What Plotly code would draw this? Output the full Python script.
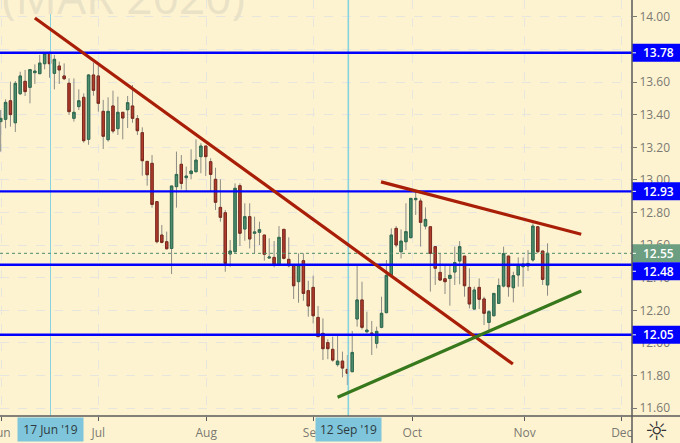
import plotly.graph_objects as go

# daily candles, x is the bar number
bars = list(range(113))
opens = [13.358, 13.372, 13.486, 13.351, 13.529, 13.605, 13.568, 13.658, 13.652, 13.713,
         13.781, 13.654, 13.699, 13.638, 13.593, 13.378, 13.450, 13.507, 13.249, 13.644,
         13.638, 13.421, 13.247, 13.454, 13.315, 13.415, 13.431, 13.454, 13.376, 13.290,
         13.114, 13.102, 12.867, 12.662, 12.621, 12.580, 12.959, 13.096, 13.014, 13.039,
         13.051, 13.143, 13.208, 13.112, 13.004, 12.832, 12.799, 12.546, 12.560, 12.965,
         12.699, 12.775, 12.673, 12.679, 12.662, 12.521, 12.525, 12.476, 12.697, 12.513,
         12.478, 12.376, 12.505, 12.321, 12.341, 12.157, 12.059, 12.002, 11.961, 11.867,
         11.889, 11.838, 11.824, 12.147, 12.264, 12.069, 12.061, 11.998, 12.096, 12.186,
         12.417, 12.703, 12.560, 12.621, 12.646, 12.879, 12.871, 12.717, 12.713, 12.591,
         12.433, 12.394, 12.396, 12.435, 12.503, 12.533, 12.341, 12.208, 12.341, 12.270,
         12.126, 12.167, 12.243, 12.349, 12.533, 12.339, 12.417, 12.468, 12.472, 12.509,
         12.713, 12.564, 12.356]
highs = [13.429, 13.495, 13.603, 13.607, 13.664, 13.675, 13.679, 13.709, 13.767, 13.777,
         13.787, 13.767, 13.726, 13.715, 13.623, 13.623, 13.556, 13.531, 13.650, 13.720,
         13.699, 13.491, 13.507, 13.548, 13.511, 13.415, 13.515, 13.583, 13.398, 13.323,
         13.114, 13.153, 12.867, 12.724, 12.683, 12.963, 13.174, 13.153, 13.082, 13.188,
         13.249, 13.225, 13.208, 13.133, 13.075, 13.004, 12.816, 12.632, 12.979, 12.979,
         12.857, 12.857, 12.775, 12.744, 12.662, 12.642, 12.625, 12.717, 12.697, 12.648,
         12.478, 12.550, 12.550, 12.382, 12.413, 12.227, 12.151, 12.022, 12.039, 12.055,
         11.947, 11.926, 12.073, 12.478, 12.376, 12.192, 12.135, 12.100, 12.284, 12.509,
         12.703, 12.717, 12.697, 12.857, 12.887, 12.928, 12.887, 12.832, 12.713, 12.591,
         12.550, 12.478, 12.478, 12.591, 12.625, 12.533, 12.458, 12.345, 12.396, 12.284,
         12.202, 12.304, 12.396, 12.591, 12.533, 12.437, 12.525, 12.525, 12.570, 12.734,
         12.713, 12.564, 12.611]
lows = [13.174, 13.317, 13.327, 13.294, 13.521, 13.515, 13.470, 13.589, 13.650, 13.679,
        13.627, 13.556, 13.589, 13.613, 13.398, 13.358, 13.429, 13.229, 13.216, 13.517,
        13.419, 13.190, 13.235, 13.286, 13.276, 13.249, 13.319, 13.351, 13.276, 13.026,
        12.965, 12.830, 12.611, 12.611, 12.574, 12.423, 12.830, 12.942, 12.928, 13.004,
        13.045, 13.041, 13.024, 12.928, 12.816, 12.744, 12.437, 12.468, 12.554, 12.595,
        12.627, 12.580, 12.550, 12.601, 12.505, 12.519, 12.464, 12.472, 12.513, 12.464,
        12.270, 12.247, 12.259, 12.161, 12.120, 12.039, 11.895, 11.901, 11.885, 11.855,
        11.789, 11.742, 11.820, 12.100, 12.083, 12.059, 11.926, 11.967, 12.090, 12.182,
        12.407, 12.587, 12.519, 12.570, 12.642, 12.785, 12.591, 12.697, 12.315, 12.356,
        12.382, 12.300, 12.229, 12.356, 12.360, 12.284, 12.212, 12.202, 12.208, 12.110,
        12.079, 12.165, 12.239, 12.341, 12.284, 12.249, 12.345, 12.345, 12.441, 12.499,
        12.550, 12.356, 12.290]
closes = [13.378, 13.476, 13.401, 13.593, 13.638, 13.542, 13.677, 13.668, 13.717, 13.777,
          13.713, 13.740, 13.675, 13.621, 13.419, 13.415, 13.486, 13.241, 13.644, 13.550,
          13.470, 13.268, 13.421, 13.300, 13.415, 13.380, 13.474, 13.378, 13.302, 13.118,
          13.032, 12.850, 12.621, 12.617, 12.578, 12.963, 13.034, 12.979, 13.024, 13.055,
          13.122, 13.208, 13.143, 13.034, 12.863, 12.771, 12.488, 12.564, 12.949, 12.673,
          12.775, 12.638, 12.681, 12.695, 12.544, 12.527, 12.478, 12.648, 12.519, 12.474,
          12.351, 12.478, 12.304, 12.227, 12.167, 12.039, 11.965, 11.965, 11.895, 11.889,
          11.846, 11.814, 11.942, 12.264, 12.096, 12.079, 12.049, 12.071, 12.182, 12.415,
          12.662, 12.601, 12.625, 12.683, 12.887, 12.887, 12.740, 12.758, 12.550, 12.458,
          12.386, 12.376, 12.415, 12.493, 12.591, 12.351, 12.239, 12.325, 12.268, 12.182,
          12.192, 12.304, 12.353, 12.548, 12.345, 12.413, 12.478, 12.484, 12.488, 12.717,
          12.560, 12.390, 12.550]

# axes
y_ticks = [11.6, 11.8, 12.0, 12.2, 12.4, 12.6, 12.8, 13.0, 13.2, 13.4, 13.6, 13.8, 14.0]
month_pos = [0.2, 20, 42.1, 64, 84.3, 107.3, 127.2]
month_names = ['Jun', 'Jul', 'Aug', 'Sep', 'Oct', 'Nov', 'Dec']

# horizontal levels and drawn lines
levels = [13.78, 12.93, 12.48, 12.05]
last_price = 12.55
cross_bars = [10.2, 71.2]
cross_names = ["17 Jun '19", "12 Sep '19"]
down_x = [7.0, 104.9]
down_y = [13.994, 11.871]
top_x = [77.9, 118.9]
top_y = [12.988, 12.667]
up_x = [69.0, 118.9]
up_y = [11.667, 12.319]

x_range = [-0.14, 129.3]
y_range = [11.552, 14.104]
bg = '#fef3d1'
font = 'Open Sans'

fig = go.Figure()

# crosshair lines
for i, c in enumerate(cross_bars):
    fig.add_trace(go.Scatter(x=[c, c], y=y_range, mode='lines',
                             line=dict(color='#86d2de', width=1 if i == 0 else 1.6), hoverinfo='skip'))

# wicks first, then the bodies on top so the wicks stay grey
fig.add_trace(go.Candlestick(
    x=bars, open=opens, high=highs, low=lows, close=closes,
    increasing=dict(line=dict(color='#8c8c84', width=1), fillcolor='#4d8c6c'),
    decreasing=dict(line=dict(color='#8c8c84', width=1), fillcolor='#b23c2c'),
    whiskerwidth=0, hoverinfo='skip'))
fig.add_trace(go.Candlestick(
    x=bars, open=opens, close=closes,
    high=[max(o, c) for o, c in zip(opens, closes)],
    low=[min(o, c) for o, c in zip(opens, closes)],
    increasing=dict(line=dict(color='#2e6b50', width=1), fillcolor='#4d8c6c'),
    decreasing=dict(line=dict(color='#7c2a1e', width=1), fillcolor='#b23c2c'),
    whiskerwidth=0, hoverinfo='skip'))

# last price
fig.add_trace(go.Scatter(x=x_range, y=[last_price, last_price], mode='lines',
                         line=dict(color='#4d8c6c', width=1, dash='dot'), hoverinfo='skip'))

# levels
for lv in levels:
    fig.add_trace(go.Scatter(x=x_range, y=[lv, lv], mode='lines',
                             line=dict(color='#0000ff', width=2.4), hoverinfo='skip'))

# trend lines
fig.add_trace(go.Scatter(x=down_x, y=down_y, mode='lines', line=dict(color='#a81e06', width=3.2), hoverinfo='skip'))
fig.add_trace(go.Scatter(x=top_x, y=top_y, mode='lines', line=dict(color='#a81e06', width=3.2), hoverinfo='skip'))
fig.add_trace(go.Scatter(x=up_x, y=up_y, mode='lines', line=dict(color='#37781c', width=3.2), hoverinfo='skip'))

# price labels on the right, (value, shown at, colour)
labels = [(13.78, 13.78, '#0000ff'), (12.93, 12.93, '#0000ff'), (12.55, 12.55, '#6c9f82'),
          (12.48, 12.44, '#0000ff'), (12.05, 12.05, '#0000ff')]
for val, at, col in labels:
    fig.add_shape(type='rect', xref='paper', yref='y', xsizemode='pixel', ysizemode='pixel',
                  xanchor=1, yanchor=at, x0=0, x1=48, y0=-9, y1=9,
                  fillcolor=col, line_width=0)
    fig.add_shape(type='line', xref='paper', yref='y', xsizemode='pixel', ysizemode='pixel',
                  xanchor=1, yanchor=at, x0=0, x1=4, y0=0, y1=0,
                  line=dict(color='white', width=1))
    fig.add_annotation(xref='paper', yref='y', x=1, y=at, xshift=9, xanchor='left', yanchor='middle',
                       text=f'{val:.2f}', showarrow=False,
                       font=dict(family=font, size=12, color='white', weight=600))

# crosshair date boxes
for c, name in zip(cross_bars, cross_names):
    fig.add_annotation(x=c, yref='paper', y=0, yanchor='top', yshift=-1, text=name, showarrow=False,
                       bgcolor='#7fc6dc', width=63, height=21,
                       font=dict(family=font, size=12, color='#2e3a40'))

# faint watermark cut by the top of the window
fig.add_annotation(xref='paper', yref='paper', x=0, y=1, xanchor='left', yanchor='bottom', yshift=-29,
                   text='(MAR 2020)', showarrow=False,
                   font=dict(family=font, size=46, color='#eae2c6'))

# settings icon
fig.add_annotation(xref='paper', yref='paper', x=1, y=0, xshift=24, yshift=-15, xanchor='center', yanchor='middle',
                   text='\u263c', showarrow=False,
                   font=dict(family='DejaVu Sans', size=26, color='#333333'))

# frame lines around the scales
fig.add_shape(type='line', xref='paper', yref='paper', x0=0, x1=1.08, y0=0, y1=0, line=dict(color='#5a5a5a', width=1.5))
fig.add_shape(type='line', xref='paper', yref='paper', x0=1, x1=1, y0=-0.07, y1=1, line=dict(color='#5a5a5a', width=1.5))

fig.update_layout(
    width=680, height=443, margin=dict(l=0, r=48, t=0, b=27, autoexpand=False),
    paper_bgcolor=bg, plot_bgcolor=bg, showlegend=False,
    font=dict(family=font, size=12, color='#7a7a72'),
    xaxis=dict(range=x_range, tickmode='array', tickvals=month_pos, ticktext=month_names,
               rangeslider=dict(visible=False), showgrid=True, gridcolor='#e6e6de', griddash='dash',
               zeroline=False, ticks='outside', ticklen=4, tickcolor='#5a5a5a',
               ticklabeloverflow='allow', ticklabelstandoff=2),
    yaxis=dict(range=y_range, side='right', tickmode='array', tickvals=y_ticks,
               tickformat='.2f', showgrid=True, gridcolor='#e6e6de', griddash='dash',
               zeroline=False, ticks='outside', ticklen=4, tickcolor='#7a7a72'),
)

# the page's own margin would push the chart off the window
fig.write_html("out.html", config=dict(displayModeBar=False),
               post_script="document.body.style.margin='0';document.body.style.overflow='hidden';")
